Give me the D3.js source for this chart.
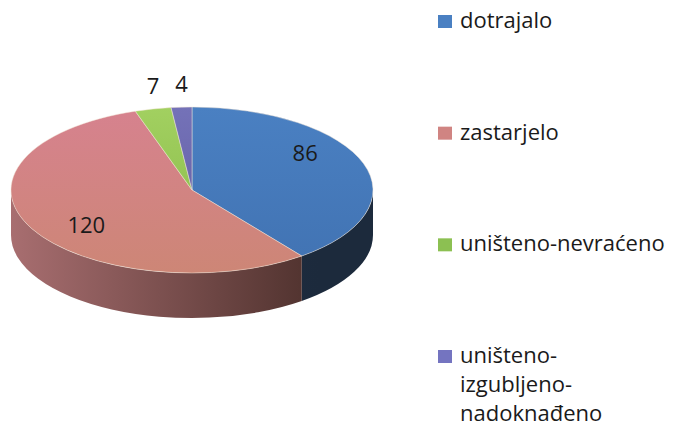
<!DOCTYPE html>
<html><head><meta charset="utf-8">
<script src="https://cdn.jsdelivr.net/npm/d3@7"></script>
<style>html,body{margin:0;padding:0;background:#fff;}svg{display:block;}</style>
</head><body>
<script>
const categories = ["dotrajalo", "zastarjelo", "uništeno-nevraćeno", "uništeno-izgubljeno-nadoknađeno"];
const legendLines = [["dotrajalo"], ["zastarjelo"], ["uništeno-nevraćeno"], ["uništeno-", "izgubljeno-", "nadoknađeno"]];
const values = [86, 120, 7, 4];
const topColors = [["#4a80c2", "#4274b4"], ["#d6828e", "#cd8676"], ["#a2d060", "#94c454"], ["#7472b8", "#6a66ac"]];
const sideColors = [["#243650", "#1c2a3c"], ["#a86e70", "#4e312d"], ["#6a8a3a", "#4c6a2a"], ["#4a4880", "#3a3868"]];
const legendColors = ["#4a80c2", "#d08482", "#8cc052", "#7474c0"];

const W = 678, H = 429;
const cx = 192, cy = 190, rx = 181, ry = 83, depth = 45;
const font = "'Open Sans', 'Liberation Sans', sans-serif";

const svg = d3.select("body").append("svg").attr("width", W).attr("height", H);
const defs = svg.append("defs");

const pie = d3.pie().sort(null).value(d => d)(values);
const P = (a, dy = 0) => [cx + rx * Math.sin(a), cy - ry * Math.cos(a) + dy];

// gradients
topColors.forEach((c, i) => {
  const g = defs.append("linearGradient").attr("id", "top" + i).attr("x1", 0).attr("y1", 0).attr("x2", 0).attr("y2", 1);
  g.append("stop").attr("offset", "0%").attr("stop-color", c[0]);
  g.append("stop").attr("offset", "100%").attr("stop-color", c[1]);
});
sideColors.forEach((c, i) => {
  const g = defs.append("linearGradient").attr("id", "side" + i).attr("gradientUnits", "userSpaceOnUse")
    .attr("x1", cx - rx).attr("y1", 0).attr("x2", cx + rx * 0.7).attr("y2", 0);
  g.append("stop").attr("offset", "0%").attr("stop-color", c[0]);
  g.append("stop").attr("offset", "100%").attr("stop-color", c[1]);
});

// side walls (front half: angles between PI/2 and 3PI/2)
const sides = svg.append("g");
pie.forEach((s, i) => {
  const a = Math.max(s.startAngle, Math.PI / 2), b = Math.min(s.endAngle, 3 * Math.PI / 2);
  if (b <= a) return;
  const t0 = P(a), t1 = P(b), b1 = P(b, depth), b0 = P(a, depth);
  const d = `M${t0}A${rx},${ry} 0 0 1 ${t1}L${b1}A${rx},${ry} 0 0 0 ${b0}Z`;
  sides.append("path").attr("d", d).attr("fill", `url(#side${i})`);
});

// top faces
const tops = svg.append("g");
pie.forEach((s, i) => {
  const p0 = P(s.startAngle), p1 = P(s.endAngle);
  const large = (s.endAngle - s.startAngle) > Math.PI ? 1 : 0;
  const d = `M${cx},${cy}L${p0}A${rx},${ry} 0 ${large} 1 ${p1}Z`;
  tops.append("path").attr("d", d).attr("fill", `url(#top${i})`)
    .attr("stroke", "#f2e6d8").attr("stroke-width", 0.8).attr("stroke-opacity", 0.6);
});

// data labels
const labels = svg.append("g").attr("font-family", font).attr("font-size", 22).attr("fill", "#1a1a1a").attr("text-anchor", "middle");
pie.forEach((s, i) => {
  const mid = (s.startAngle + s.endAngle) / 2;
  const frac = (s.endAngle - s.startAngle) / (2 * Math.PI);
  let x, y;
  if (frac > 0.1) {
    x = cx + rx * 0.66 * Math.sin(mid);
    y = cy - ry * 1.1 * Math.cos(mid);
  } else {
    x = cx + rx * Math.sin(mid);
    y = cy - ry * Math.cos(mid) - 15;
  }
  labels.append("text").attr("x", x).attr("y", y).text(values[i]);
});

// legend
const leg = svg.append("g").attr("font-family", font).attr("font-size", 22).attr("fill", "#1a1a1a");
const legY = d3.scaleLinear().domain([0, 3]).range([28, 363]);
categories.forEach((c, i) => {
  const y = legY(i);
  leg.append("rect").attr("x", 438).attr("y", y - 13).attr("width", 14).attr("height", 13).attr("fill", legendColors[i]);
  legendLines[i].forEach((ln, j) => {
    leg.append("text").attr("x", 460).attr("y", y + j * 29).text(ln);
  });
});
</script>
</body></html>
